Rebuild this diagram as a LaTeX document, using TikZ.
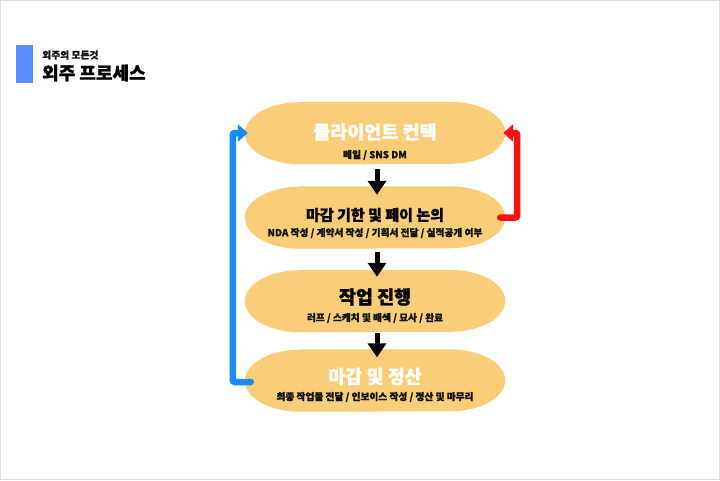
\documentclass[tikz,border=0pt]{standalone}
\usepackage{fontspec}
\setmainfont{Noto Sans CJK KR}[UprightFont=* Black, BoldFont=* Black, RawFeature={embolden=1.2}]
\usetikzlibrary{arrows.meta}
\definecolor{boxfill}{RGB}{250,205,120}
\definecolor{barblue}{RGB}{90,140,255}
\definecolor{linkblue}{RGB}{24,140,255}
\definecolor{linkred}{RGB}{255,16,16}
\definecolor{framegray}{RGB}{220,220,220}
\definecolor{ink}{RGB}{20,20,20}
\newcommand\eboxshape[1]{%
  \fill[boxfill] ([xshift=55pt]#1.north west) -- ([xshift=-55pt]#1.north east)
    arc[start angle=90,end angle=-90,x radius=55pt,y radius=31pt]
    -- ([xshift=55pt]#1.south west)
    arc[start angle=270,end angle=90,x radius=55pt,y radius=31pt] -- cycle;}
\tikzset{
  boxnode/.style={rectangle, draw=none, minimum width=260pt, minimum height=62pt, inner sep=0pt},
  bigtitle/.style={font=\fontsize{18.5}{20}\selectfont, inner sep=0pt},
  midtitle/.style={font=\fontsize{15}{17}\selectfont, inner sep=0pt},
  subtext/.style={font=\fontsize{9.7}{11}\selectfont, text=ink, inner sep=0pt},
  downarrow/.style={line width=5pt, draw=black, -{Triangle[width=18pt,length=14pt]}},
  looparrow/.style={line width=6.5pt, line cap=round, rounded corners=2pt, -{Triangle[width=17pt,length=10pt]}}
}
\begin{document}
\begin{tikzpicture}[x=1pt,y=1pt]
\useasboundingbox (0,0) rectangle (720,-480);
\fill[white] (0,0) rectangle (720,-480);
\draw[framegray, line width=1pt] (0.5,-0.5) rectangle (719.5,-479.5);
% header
\fill[barblue] (16,-45) rectangle (33,-83);
\node[anchor=west, font=\fontsize{9.8}{11}\selectfont, text=ink, inner sep=0pt] (hsub) at (42,-55) {외주의 모든것};
\node[anchor=west, font=\fontsize{18}{19}\selectfont, text=black, inner sep=0pt] (htitle) at (42,-73) {외주 프로세스};
% boxes
\node[boxnode] (b1) at (375,-133) {};
\node[boxnode] (b2) at (375,-217.5) {};
\node[boxnode] (b3) at (375,-301) {};
\node[boxnode] (b4) at (375,-380.5) {};
\eboxshape{b1}\eboxshape{b2}\eboxshape{b3}\eboxshape{b4}
% texts
\node[bigtitle, text=white] (b1t) at ([yshift=1pt]b1.center) {클라이언트 컨택};
\node[subtext] (b1s) at ([yshift=-22pt]b1.center) {메일 / SNS DM};
\node[midtitle, text=black] (b2t) at ([yshift=2.5pt]b2.center) {마감 기한 및 페이 논의};
\node[subtext] (b2s) at ([yshift=-15.5pt]b2.center) {NDA 작성 / 계약서 작성 / 기획서 전달 / 실적공개 여부};
\node[bigtitle, text=black] (b3t) at ([yshift=4pt]b3.center) {작업 진행};
\node[subtext] (b3s) at ([yshift=-17pt]b3.center) {러프 / 스케치 및 배색 / 묘사 / 완료};
\node[bigtitle, text=white] (b4t) at ([yshift=4pt]b4.center) {마감 및 정산};
\node[subtext] (b4s) at ([yshift=-16.5pt]b4.center) {최종 작업물 전달 / 인보이스 작성 / 정산 및 마무리};
% flow arrows
\draw[downarrow] ([xshift=2pt,yshift=-5pt]b1.south) -- ([xshift=2pt,yshift=-8.5pt]b2.north);
\draw[downarrow] ([xshift=2pt,yshift=-3pt]b2.south) -- ([xshift=2pt,yshift=-7pt]b3.north);
\draw[downarrow] ([xshift=2pt,yshift=-1pt]b3.south) -- ([xshift=2pt,yshift=-8pt]b4.north);
% loop arrows
\draw[looparrow, draw=linkblue] ([xshift=6pt,yshift=-1.5pt]b4.west) -- ++(-18,0) |- ([xshift=3pt]b1.west);
\draw[looparrow, draw=linkred] ([xshift=-5pt]b2.east) -- ++(17,0) |- ([xshift=-2pt]b1.east);
\end{tikzpicture}
\end{document}
